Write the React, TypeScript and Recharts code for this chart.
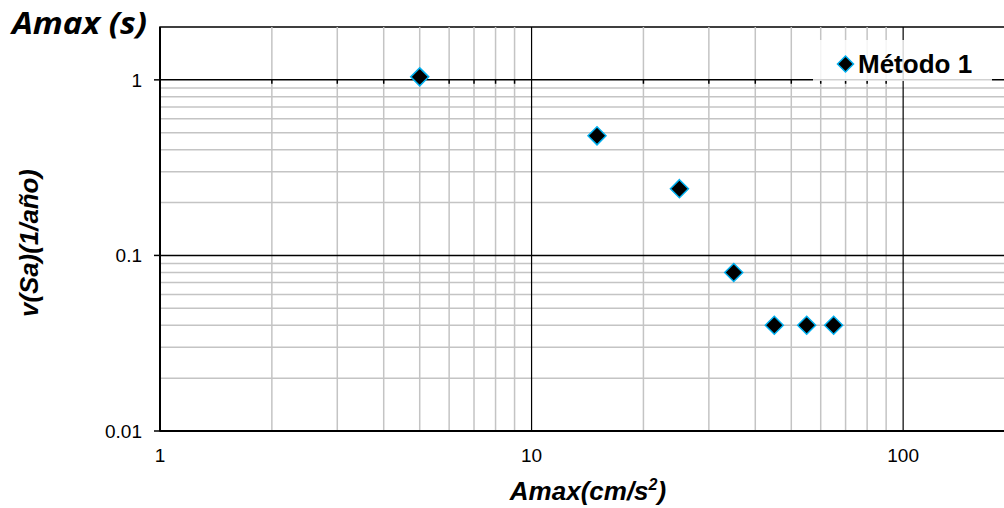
import { ScatterChart, Scatter, XAxis, YAxis, ReferenceLine, ReferenceArea } from 'recharts';

// Método 1 results: peak ground acceleration vs annual exceedance rate
const amaxValues = [5, 15, 25, 35, 45, 55, 65];
const rateValues = [1.04, 0.48, 0.24, 0.08, 0.04, 0.04, 0.04];

const xTicks = [1, 10, 100];
const yTicks = [0.01, 0.1, 1];
const xMajorGrid = [10, 100];
const yMajorGrid = [0.1, 1];
const xMinorGrid = [2, 3, 4, 5, 6, 7, 8, 9, 20, 30, 40, 50, 60, 70, 80, 90];
const yMinorGrid = [0.02, 0.03, 0.04, 0.05, 0.06, 0.07, 0.08, 0.09, 0.2, 0.3, 0.4, 0.5, 0.6, 0.7, 0.8, 0.9];

const points = amaxValues.map((x, i) => ({ x, y: rateValues[i] }));

const FONT = '"Liberation Sans", Arial, sans-serif';
const MARKER_FILL = '#000000';
const MARKER_STROKE = '#00b0f0';
const MINOR = '#c4c4c4';

const Diamond = (props: any) => {
  const { cx, cy } = props;
  const r = 9;
  return (
    <polygon
      points={`${cx},${cy - r} ${cx + r},${cy} ${cx},${cy + r} ${cx - r},${cy}`}
      fill={MARKER_FILL}
      stroke={MARKER_STROKE}
      strokeWidth={1.5}
    />
  );
};

export default function App() {
  return (
    <div style={{ position: 'absolute', left: 0, top: 0, width: 1004, height: 508, overflow: 'hidden', background: '#fff' }}>
      <ScatterChart width={1040} height={508} margin={{ top: 27, right: 25, bottom: 17, left: 100 }}>
        {yMinorGrid.map((v) => (
          <ReferenceLine key={`ym${v}`} y={v} stroke={MINOR} strokeWidth={1.5} />
        ))}
        {xMinorGrid.map((v) => (
          <ReferenceLine key={`xm${v}`} x={v} stroke={MINOR} strokeWidth={1.5} />
        ))}
        {yMajorGrid.map((v) => (
          <ReferenceLine key={`yM${v}`} y={v} stroke="#000" strokeWidth={1.5} />
        ))}
        {xMajorGrid.map((v) => (
          <ReferenceLine key={`xM${v}`} x={v} stroke="#000" strokeWidth={1.2} />
        ))}
        {/* minor tick marks of the horizontal axis, which crosses at y = 1 */}
        {xMinorGrid.map((v) => (
          <ReferenceLine key={`xt${v}`} segment={[{ x: v, y: 1 }, { x: v, y: 0.95 }]} stroke="#000" strokeWidth={1.5} />
        ))}
        <ReferenceArea x1={1} x2={200} y1={0.01} y2={2} fill="none" stroke="#000" strokeWidth={1.5} />
        <XAxis
          dataKey="x"
          type="number"
          scale="log"
          domain={[1, 200]}
          ticks={xTicks}
          interval={0}
          allowDataOverflow
          height={60}
          tickLine={false}
          tickSize={0}
          tickMargin={18}
          axisLine={{ stroke: '#000', strokeWidth: 2 }}
          tick={{ fill: '#000', fontSize: 19, fontFamily: FONT }}
        />
        <YAxis
          dataKey="y"
          type="number"
          scale="log"
          domain={[0.01, 2]}
          ticks={yTicks}
          interval={0}
          allowDataOverflow
          width={60}
          tickSize={6}
          tickMargin={12}
          tickFormatter={(v: number) => String(v)}
          tickLine={{ stroke: '#000', strokeWidth: 1.5 }}
          axisLine={{ stroke: '#000', strokeWidth: 2 }}
          tick={{ fill: '#000', fontSize: 19, fontFamily: FONT }}
        />
        <Scatter name="Método 1" data={points} shape={Diamond} isAnimationActive={false} />
      </ScatterChart>

      <svg width={1004} height={508} style={{ position: 'absolute', left: 0, top: 0, pointerEvents: 'none' }}>
        <text
          x={12}
          y={34}
          fontFamily='"Open Sans", sans-serif'
          fontWeight="bold"
          fontStyle="italic"
          fontSize={30}
          textLength={135}
          lengthAdjust="spacingAndGlyphs"
          fill="#000"
        >
          Amax (s)
        </text>
        <text x={588} y={500} textAnchor="middle" fontFamily={FONT} fontWeight="bold" fontStyle="italic" fontSize={26} fill="#000">
          Amax(cm/s<tspan fontSize={16} dy={-10}>2</tspan>
          <tspan dy={10}>)</tspan>
        </text>
        <text
          transform="translate(38, 243) rotate(-90)"
          textAnchor="middle"
          fontFamily={FONT}
          fontWeight="bold"
          fontStyle="italic"
          fontSize={25}
          textLength={148}
          lengthAdjust="spacingAndGlyphs"
          fill="#000"
        >
          v(Sa)(1/año)
        </text>
        {/* legend */}
        <g transform="translate(813, 40)">
          <rect width={179} height={41} fill="#fff" fillOpacity={0.82} />
          <polygon points="32.5,16 40.5,24 32.5,32 24.5,24" fill={MARKER_FILL} stroke={MARKER_STROKE} strokeWidth={1.5} />
          <text x={45} y={33} fontFamily={FONT} fontWeight="bold" fontSize={26} fill="#000">
            Método 1
          </text>
        </g>
      </svg>
    </div>
  );
}
